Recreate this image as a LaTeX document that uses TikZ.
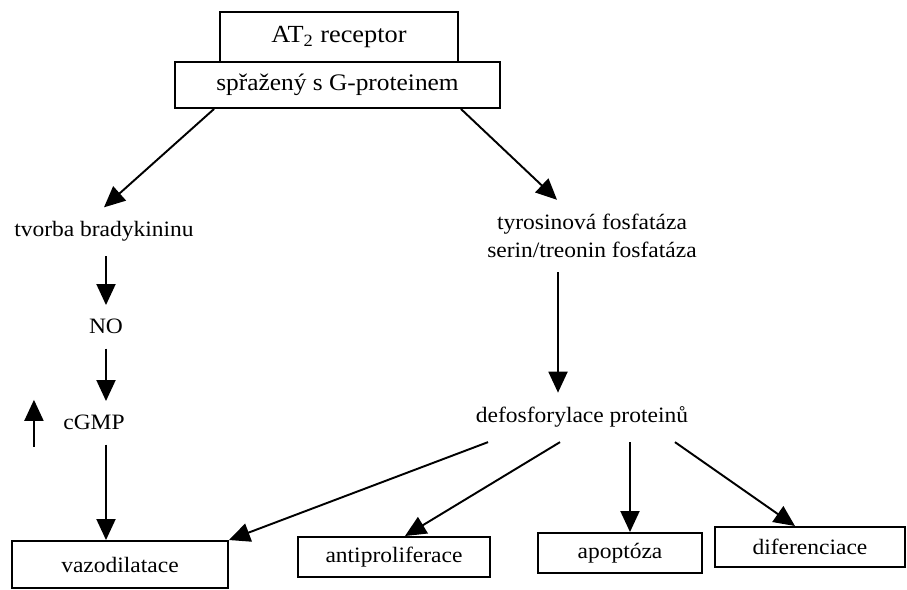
\documentclass[tikz,border=0pt]{standalone}
\usepackage{fontspec}
\setmainfont[FakeStretch=1.07]{Liberation Serif}
\usetikzlibrary{arrows.meta}
\begin{document}
\begin{tikzpicture}[x=0.02cm,y=-0.02cm,
  box/.style={draw,line width=1.1pt,fill=white,inner sep=0pt,font=\fontsize{12.5}{15}\selectfont},
  lbl/.style={inner xsep=2pt,inner ysep=8pt,align=center,font=\fontsize{12.5}{15.9}\selectfont},
  arr/.style={-{Triangle[width=0.38cm,length=0.42cm]},line width=1.1pt}]
\useasboundingbox (0,0) rectangle (907,590);
% receptor
\node[box,minimum width=4.76cm,minimum height=1.0cm,font=\fontsize{14}{16}\selectfont] (at2) at (339,37) {AT\textsubscript{2} receptor};
\node[box,minimum width=6.5cm,minimum height=0.92cm,font=\fontsize{13.5}{16}\selectfont] (gprot) at (337.5,85) {spřažený s G-proteinem};
% left branch
\node[lbl,anchor=base] (brad) at (104,237) {tvorba bradykininu};
\node[lbl,anchor=base] (no) at (106,334) {NO};
\node[lbl,anchor=base] (cgmp) at (94,430) {cGMP};
% right branch
\node[lbl] (fosf) at (592,236) {tyrosinová fosfatáza\\serin/treonin fosfatáza};
\node[lbl,anchor=base] (defos) at (582,423) {defosforylace proteinů};
% effects
\node[box,minimum width=4.32cm,minimum height=0.94cm] (vazo) at (120,564.5) {vazodilatace};
\node[box,minimum width=3.84cm,minimum height=0.8cm] (anti) at (394,557) {antiproliferace};
\node[box,minimum width=3.28cm,minimum height=0.8cm] (apop) at (620,553) {apoptóza};
\node[box,minimum width=3.8cm,minimum height=0.8cm] (dif) at (810,547) {diferenciace};
% arrows
\draw[arr] ([xshift=0.8cm]gprot.south west) -- (brad.north);
\draw[arr] ([xshift=-0.8cm]gprot.south east) -- ([xshift=-0.7cm]fosf.north);
\draw[arr] (no |- brad.south) -- (no);
\draw[arr] (no) -- (no |- cgmp.north);
\draw[arr] (no |- cgmp.south) -- (no |- vazo.north);
\draw[arr] ([xshift=-0.51cm,yshift=-0.48cm]cgmp.west) -- ([xshift=-0.51cm,yshift=0.46cm]cgmp.west);
\draw[arr] ([xshift=-0.68cm]fosf.south) -- ([xshift=-0.48cm]defos.north);
\foreach \s/\t/\e in {-1.88/vazo.north east/0,-0.44/anti.north/0.22,0.96/apop.north/0.2,1.86/dif.north/-0.3}
  \draw[arr] ([xshift=\s cm]defos.south) -- ([xshift=\e cm]\t);
\end{tikzpicture}
\end{document}
